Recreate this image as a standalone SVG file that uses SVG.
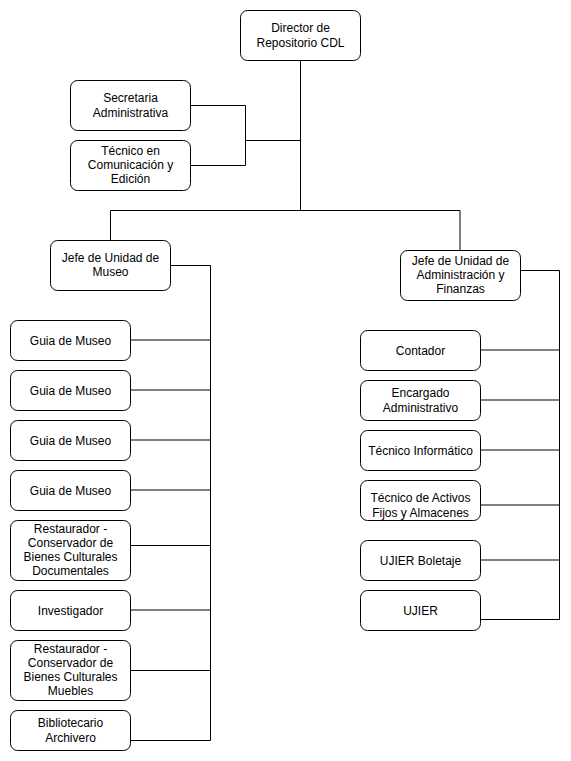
<svg xmlns="http://www.w3.org/2000/svg" width="571" height="761" viewBox="0 0 571 761">
<style>
.box{fill:#ffffff;stroke:#000000;stroke-width:1}
.lbl{font-family:"Liberation Sans",Arial,Helvetica,sans-serif;font-size:12px;fill:#000000;text-anchor:middle}
.cn{fill:none;stroke:#000000;stroke-width:1}
</style>
<rect width="571" height="761" fill="#ffffff"/>
<g id="connectors">
<path class="cn" d="M300.5 60.5 V210.5"/>
<path class="cn" d="M190.5 105.5 H245.5 V165.5 H190.5"/>
<path class="cn" d="M245.5 140.5 H300.5"/>
<path class="cn" d="M110.5 240.5 V210.5 H460 V250.5"/>
<path class="cn" d="M170.5 265.5 H210.5 V740.5 H130.5"/>
<path class="cn" d="M130.5 340 H210.5"/>
<path class="cn" d="M130.5 390 H210.5"/>
<path class="cn" d="M130.5 440 H210.5"/>
<path class="cn" d="M130.5 490 H210.5"/>
<path class="cn" d="M130.5 545.5 H210.5"/>
<path class="cn" d="M130.5 610 H210.5"/>
<path class="cn" d="M130.5 670.5 H210.5"/>
<path class="cn" d="M520.5 270.5 H559.5 V619.5 H480.5"/>
<path class="cn" d="M480.5 350 H559.5"/>
<path class="cn" d="M480.5 400 H559.5"/>
<path class="cn" d="M480.5 450 H559.5"/>
<path class="cn" d="M480.5 505 H559.5"/>
<path class="cn" d="M480.5 560 H559.5"/>
</g>
<g id="director"><rect class="box" x="240.5" y="10.5" width="120" height="50" rx="7"/><text class="lbl" x="300.5" y="32">Director de</text><text class="lbl" x="300.5" y="47">Repositorio CDL</text></g>
<g id="secretaria"><rect class="box" x="70.5" y="80.5" width="120" height="50" rx="7"/><text class="lbl" x="130.5" y="102">Secretaria</text><text class="lbl" x="130.5" y="117">Administrativa</text></g>
<g id="tecnico-comunicacion"><rect class="box" x="70.5" y="140.5" width="120" height="50" rx="7"/><text class="lbl" x="130.5" y="155">Técnico en</text><text class="lbl" x="130.5" y="169">Comunicación y</text><text class="lbl" x="130.5" y="183">Edición</text></g>
<g id="jefe-museo"><rect class="box" x="50.5" y="240.5" width="120" height="50" rx="7"/><text class="lbl" x="110.5" y="262">Jefe de Unidad de</text><text class="lbl" x="110.5" y="276">Museo</text></g>
<g id="jefe-admin"><rect class="box" x="400.5" y="250.5" width="120" height="50" rx="7"/><text class="lbl" x="460.5" y="265">Jefe de Unidad de</text><text class="lbl" x="460.5" y="279">Administración y</text><text class="lbl" x="460.5" y="293">Finanzas</text></g>
<g id="guia1"><rect class="box" x="10.5" y="320.5" width="120" height="40" rx="7"/><text class="lbl" x="70.5" y="345">Guia de Museo</text></g>
<g id="guia2"><rect class="box" x="10.5" y="370.5" width="120" height="40" rx="7"/><text class="lbl" x="70.5" y="395">Guia de Museo</text></g>
<g id="guia3"><rect class="box" x="10.5" y="420.5" width="120" height="40" rx="7"/><text class="lbl" x="70.5" y="445">Guia de Museo</text></g>
<g id="guia4"><rect class="box" x="10.5" y="470.5" width="120" height="40" rx="7"/><text class="lbl" x="70.5" y="495">Guia de Museo</text></g>
<g id="restaurador-doc"><rect class="box" x="10.5" y="520.5" width="120" height="60" rx="7"/><text class="lbl" x="70.5" y="533">Restaurador -</text><text class="lbl" x="70.5" y="547">Conservador de</text><text class="lbl" x="70.5" y="561">Bienes Culturales</text><text class="lbl" x="70.5" y="575">Documentales</text></g>
<g id="investigador"><rect class="box" x="10.5" y="590.5" width="120" height="40" rx="7"/><text class="lbl" x="70.5" y="615">Investigador</text></g>
<g id="restaurador-mue"><rect class="box" x="10.5" y="640.5" width="120" height="60" rx="7"/><text class="lbl" x="70.5" y="653">Restaurador -</text><text class="lbl" x="70.5" y="667">Conservador de</text><text class="lbl" x="70.5" y="681">Bienes Culturales</text><text class="lbl" x="70.5" y="695">Muebles</text></g>
<g id="bibliotecario"><rect class="box" x="10.5" y="710.5" width="120" height="40" rx="7"/><text class="lbl" x="70.5" y="727">Bibliotecario</text><text class="lbl" x="70.5" y="742">Archivero</text></g>
<g id="contador"><rect class="box" x="360.5" y="330.5" width="120" height="40" rx="7"/><text class="lbl" x="420.5" y="355">Contador</text></g>
<g id="encargado"><rect class="box" x="360.5" y="380.5" width="120" height="40" rx="7"/><text class="lbl" x="420.5" y="397">Encargado</text><text class="lbl" x="420.5" y="412">Administrativo</text></g>
<g id="tecnico-informatico"><rect class="box" x="360.5" y="430.5" width="120" height="40" rx="7"/><text class="lbl" x="420.5" y="455">Técnico Informático</text></g>
<g id="tecnico-activos"><rect class="box" x="360.5" y="480.5" width="120" height="40" rx="7"/><text class="lbl" x="420.5" y="502">Técnico de Activos</text><text class="lbl" x="420.5" y="517">Fijos y Almacenes</text></g>
<g id="ujier-boletaje"><rect class="box" x="360.5" y="540.5" width="120" height="40" rx="7"/><text class="lbl" x="420.5" y="565">UJIER Boletaje</text></g>
<g id="ujier"><rect class="box" x="360.5" y="590.5" width="120" height="40" rx="7"/><text class="lbl" x="420.5" y="615">UJIER</text></g>
</svg>
